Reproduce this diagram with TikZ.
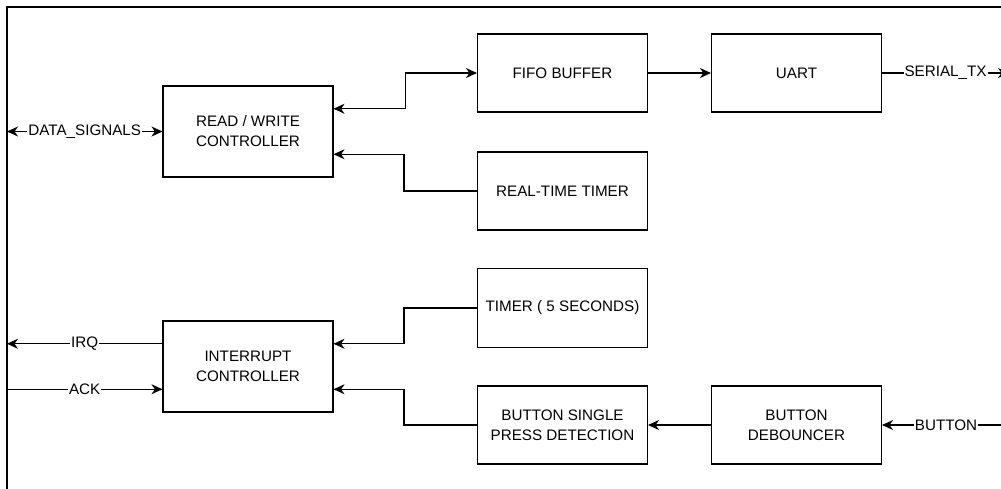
\documentclass[tikz,border=0pt]{standalone}
\usepackage{fontspec}
\setmainfont{Liberation Sans}
\usetikzlibrary{arrows.meta,calc}
\begin{document}
\begin{tikzpicture}[x=1pt,y=-1pt,
  every node/.style={font=\fontsize{15.2pt}{20pt}\selectfont},
  blockbox/.style={draw=black,line width=1.1pt,align=center,minimum width=170pt,inner sep=2pt},
  sigline/.style={line width=1.1pt,draw=black},
  tip/.style={},
  arr/.style={sigline,-{Stealth[length=11pt,width=10pt,inset=3.5pt]}},
  dbl/.style={sigline,{Stealth[length=11pt,width=10pt,inset=3.5pt]}-{Stealth[length=11pt,width=10pt,inset=3.5pt]}},
  lbl/.style={fill=white,inner sep=1pt}]
\useasboundingbox (0,0) rectangle (1001,488);
\clip (0,0) rectangle (1001,488);

% outer frame
\draw[line width=1.1pt] (7,7) rectangle (1016,520);

% blocks
\node[blockbox,minimum height=91pt] (rw)   at (248,131.5) {READ / WRITE\\CONTROLLER};
\node[blockbox,minimum height=78pt] (fifo) at (562.5,73)  {FIFO BUFFER};
\node[blockbox,minimum height=78pt] (uart) at (796.5,73)  {UART};
\node[blockbox,minimum height=78pt] (rtt)  at (562.5,191) {REAL-TIME TIMER};
\node[blockbox,minimum height=91pt] (intc) at (248,366.5) {INTERRUPT\\CONTROLLER};
\node[blockbox,minimum height=79pt] (tmr)  at (562.5,308) {TIMER ( 5 SECONDS)};
\node[blockbox,minimum height=78pt] (bspd) at (562.5,425) {BUTTON SINGLE\\PRESS DETECTION};
\node[blockbox,minimum height=78pt] (deb)  at (796.5,425) {BUTTON\\DEBOUNCER};

% external signal ends
\coordinate (dataL) at (7,131.5);
\coordinate (irqL)  at (7,343.75);
\coordinate (ackL)  at (7,389.25);
\coordinate (txR)   at (1009,73);
\coordinate (btnR)  at (1010,425);

% external signals
\draw[dbl] (dataL) -- node[lbl]{DATA\_SIGNALS} (rw);
\draw[arr] ([yshift=22.75pt]intc.west) -- node[lbl]{IRQ} (irqL);
\draw[arr] (ackL) -- node[lbl]{ACK} ([yshift=-22.75pt]intc.west);
\draw[arr] (uart.east) -- node[lbl]{SERIAL\_TX} (txR);
\draw[arr] (btnR) -- node[lbl]{BUTTON} (deb.east);

% internal connections
\draw[dbl] ([yshift=22.75pt]rw.east) -- ++(72,0) |- (fifo.west);
\draw[arr] (rtt.west) -- ++(-73,0) |- ([yshift=-22.75pt]rw.east);
\draw[arr] (fifo) -- (uart);
\draw[arr] (tmr.west) -- ++(-73,0) |- ([yshift=22.75pt]intc.east);
\draw[arr] (bspd.west) -- ++(-73,0) |- ([yshift=-22.75pt]intc.east);
\draw[arr] (deb) -- (bspd);
\end{tikzpicture}
\end{document}
